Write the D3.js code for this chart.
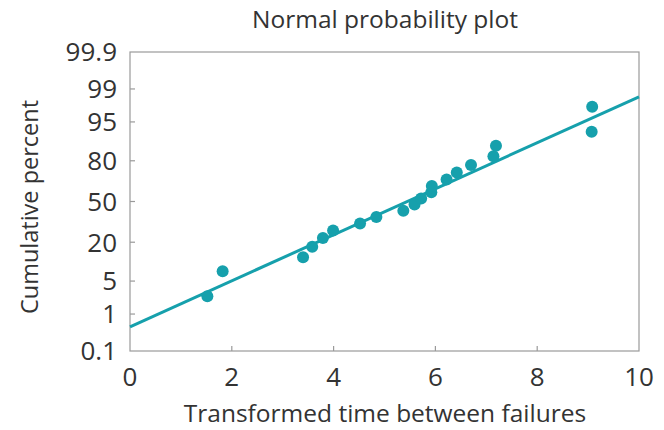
<!DOCTYPE html>
<html>
<head>
<meta charset="utf-8">
<script src="https://cdn.jsdelivr.net/npm/d3@7"></script>
<style>
  html, body { margin: 0; padding: 0; background: #fff; }
  svg { display: block; }
  text { font-family: "Open Sans", sans-serif; fill: #333; }
</style>
</head>
<body>
<svg id="chart" width="664" height="430"></svg>
<script>
// Transformed time between failures (sorted observations)
const times = [1.52, 1.82, 3.40, 3.58, 3.79, 3.99, 4.52, 4.84, 5.37, 5.59,
               5.72, 5.92, 5.93, 6.22, 6.42, 6.70, 7.14, 7.19, 9.07, 9.08];
// Cumulative percent plotted for each ordered observation
const cumPercent = [2.5, 7.5, 12.5, 17.5, 22.5, 27.5, 32.5, 37.5, 42.5, 47.5,
                    52.5, 57.5, 62.5, 67.5, 72.5, 77.5, 82.5, 87.5, 92.5, 97.5];
// Fitted reference line: cumulative percent at x = 0 and x = 10
const fitX = [0, 10];
const fitPercent = [0.48, 98.48];

const xTicks = [0, 2, 4, 6, 8, 10];
const yTicks = [0.1, 1, 5, 20, 50, 80, 95, 99, 99.9];
const yTickLabels = ["0.1", "1", "5", "20", "50", "80", "95", "99", "99.9"];

const teal = "#16a0ac";
const frameColor = "#9a9a9a";

// Inverse standard normal CDF (Acklam's rational approximation)
function normInv(p) {
  const a = [-3.969683028665376e+01, 2.209460984245205e+02, -2.759285104469687e+02,
             1.383577518672690e+02, -3.066479806614716e+01, 2.506628277459239e+00];
  const b = [-5.447609879822406e+01, 1.615858368580409e+02, -1.556989798598866e+02,
             6.680131188771972e+01, -1.328068155288572e+01];
  const c = [-7.784894002430293e-03, -3.223964580411365e-01, -2.400758277161838e+00,
             -2.549732539343734e+00, 4.374664141464968e+00, 2.938163982698783e+00];
  const d = [7.784695709041462e-03, 3.224671290700398e-01, 2.445134137142996e+00,
             3.754408661907416e+00];
  const pLow = 0.02425, pHigh = 1 - pLow;
  let q, r;
  if (p < pLow) {
    q = Math.sqrt(-2 * Math.log(p));
    return (((((c[0]*q + c[1])*q + c[2])*q + c[3])*q + c[4])*q + c[5]) /
           ((((d[0]*q + d[1])*q + d[2])*q + d[3])*q + 1);
  }
  if (p <= pHigh) {
    q = p - 0.5; r = q * q;
    return (((((a[0]*r + a[1])*r + a[2])*r + a[3])*r + a[4])*r + a[5]) * q /
           (((((b[0]*r + b[1])*r + b[2])*r + b[3])*r + b[4])*r + 1);
  }
  q = Math.sqrt(-2 * Math.log(1 - p));
  return -(((((c[0]*q + c[1])*q + c[2])*q + c[3])*q + c[4])*q + c[5]) /
          ((((d[0]*q + d[1])*q + d[2])*q + d[3])*q + 1);
}
const probit = pct => normInv(pct / 100);

const svg = d3.select("#chart");
const plotLeft = 130, plotRight = 639, plotTop = 52, plotBottom = 351;

const x = d3.scaleLinear().domain([0, 10]).range([plotLeft, plotRight]);
const z = d3.scaleLinear().domain([probit(0.1), probit(99.9)]).range([plotBottom, plotTop]);
const y = p => z(probit(p));

// Frame
svg.append("rect")
  .attr("x", plotLeft).attr("y", plotTop)
  .attr("width", plotRight - plotLeft).attr("height", plotBottom - plotTop)
  .attr("fill", "none").attr("stroke", frameColor).attr("stroke-width", 1.2);

// Inward tick marks (interior ticks only)
svg.append("g").selectAll("line")
  .data(yTicks.filter(t => t > 0.1 && t < 99.9))
  .join("line")
  .attr("x1", plotLeft).attr("x2", plotLeft + 5)
  .attr("y1", d => y(d)).attr("y2", d => y(d))
  .attr("stroke", frameColor).attr("stroke-width", 1.2);

svg.append("g").selectAll("line")
  .data(xTicks.filter(t => t > 0 && t < 10))
  .join("line")
  .attr("x1", d => x(d)).attr("x2", d => x(d))
  .attr("y1", plotBottom).attr("y2", plotBottom - 5)
  .attr("stroke", frameColor).attr("stroke-width", 1.2);

// Tick labels
svg.append("g").selectAll("text")
  .data(yTicks)
  .join("text")
  .attr("x", plotLeft - 13)
  .attr("y", d => y(d))
  .attr("dy", "0.36em")
  .attr("text-anchor", "end")
  .attr("font-size", 26)
  .text((d, i) => yTickLabels[i]);

svg.append("g").selectAll("text")
  .data(xTicks)
  .join("text")
  .attr("x", d => x(d))
  .attr("y", 386)
  .attr("text-anchor", "middle")
  .attr("font-size", 26)
  .text(d => d);

// Fitted line
svg.append("line")
  .attr("x1", x(fitX[0])).attr("y1", y(fitPercent[0]))
  .attr("x2", x(fitX[1])).attr("y2", y(fitPercent[1]))
  .attr("stroke", teal).attr("stroke-width", 3);

// Observations
svg.append("g").selectAll("circle")
  .data(times)
  .join("circle")
  .attr("cx", d => x(d))
  .attr("cy", (d, i) => y(cumPercent[i]))
  .attr("r", 6)
  .attr("fill", teal);

// Titles
svg.append("text")
  .attr("x", 385).attr("y", 28)
  .attr("text-anchor", "middle").attr("font-size", 24.5)
  .text("Normal probability plot");

svg.append("text")
  .attr("x", 385).attr("y", 422)
  .attr("text-anchor", "middle").attr("font-size", 24.5)
  .text("Transformed time between failures");

svg.append("text")
  .attr("transform", "translate(38,207) rotate(-90)")
  .attr("text-anchor", "middle").attr("font-size", 23.5)
  .text("Cumulative percent");
</script>
</body>
</html>
